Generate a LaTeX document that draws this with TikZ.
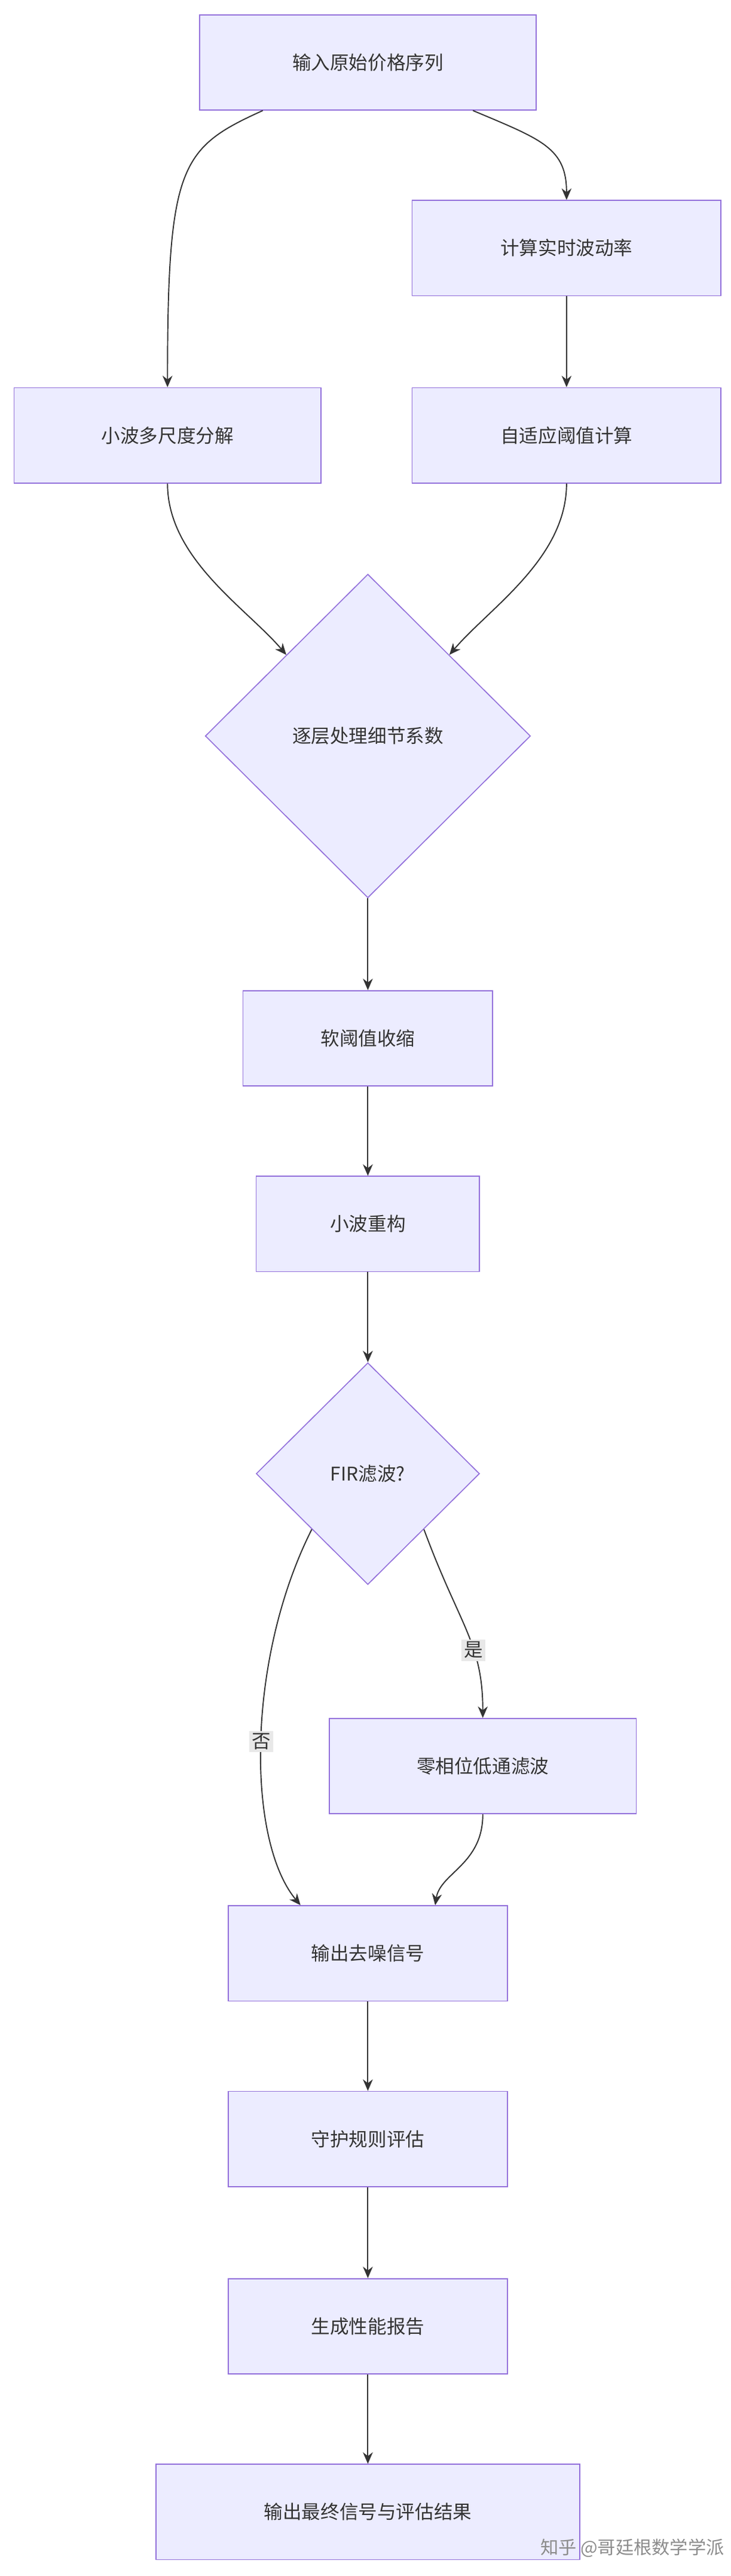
\documentclass[tikz,border=0pt]{standalone}
\usepackage{fontspec}
\setmainfont{Noto Sans CJK SC}
\usetikzlibrary{shapes.geometric,arrows.meta}
\definecolor{nf}{HTML}{ECECFF}
\definecolor{ns}{HTML}{9370DB}
\definecolor{ar}{HTML}{333333}
\begin{document}
\begin{tikzpicture}[x=1pt,y=-1pt,
  box/.style={draw=ns,fill=nf,line width=0.6pt,minimum height=58pt,font=\fontsize{11.5}{14}\selectfont,text=ar,inner sep=0pt},
  dia/.style={draw=ns,fill=nf,line width=0.6pt,diamond,font=\fontsize{11.5}{14}\selectfont,text=ar,inner sep=0pt},
  e/.style={draw=ar,line width=0.7pt,-{Stealth[length=7pt,width=6pt]}},
  lab/.style={fill=black!9,font=\fontsize{11.5}{14}\selectfont,text=ar,inner sep=1.5pt}]
\useasboundingbox (0,0) rectangle (445,1568);
\node[box,minimum width=205pt] (A) at (224,38) {输入原始价格序列};
\node[box,minimum width=188pt] (B) at (345,151) {计算实时波动率};
\node[box,minimum width=187pt] (C) at (102,265) {小波多尺度分解};
\node[box,minimum width=188pt] (D) at (345,265) {自适应阈值计算};
\node[dia,minimum width=198pt,minimum height=197pt] (E) at (224,448) {逐层处理细节系数};
\node[box,minimum width=152pt] (F) at (224,632) {软阈值收缩};
\node[box,minimum width=136pt] (G) at (224,745) {小波重构};
\node[dia,minimum width=136pt,minimum height=135pt] (H) at (224,897) {FIR滤波?};
\node[box,minimum width=187pt] (I) at (294,1075) {零相位低通滤波};
\node[box,minimum width=170pt] (J) at (224,1189) {输出去噪信号};
\node[box,minimum width=170pt] (K) at (224,1302) {守护规则评估};
\node[box,minimum width=170pt] (L) at (224,1416) {生成性能报告};
\node[box,minimum width=258pt] (M) at (224,1529) {输出最终信号与评估结果};
\node[text=black!45,font=\fontsize{11}{13}\selectfont] (W) at (385,1551) {知乎 @哥廷根数学学派};
\draw[e] (A.south -| 160,0) .. controls (110,90) and (102,100) .. (C.north);
\draw[e] (A.south -| 288,0) .. controls (330,85) and (345,90) .. (B.north);
\draw[e] (B) -- (D);
\draw[e] (C.south) .. controls (102,340) and (150,370) .. (E.north west);
\draw[e] (D.south) .. controls (345,340) and (298,370) .. (E.north east);
\draw[e] (E) -- (F);
\draw[e] (F) -- (G);
\draw[e] (G) -- (H);
\draw[e] (H.south west) .. controls (150,1010) and (150,1120) .. (J.north -| 183,0) node[lab,pos=0.5] {否};
\draw[e] (H.south east) .. controls (280,990) and (294,1000) .. (I.north) node[lab,pos=0.62] {是};
\draw[e] (I.south) .. controls (294,1135) and (268,1140) .. (J.north -| 265,0);
\draw[e] (J) -- (K);
\draw[e] (K) -- (L);
\draw[e] (L) -- (M);
\end{tikzpicture}
\end{document}
